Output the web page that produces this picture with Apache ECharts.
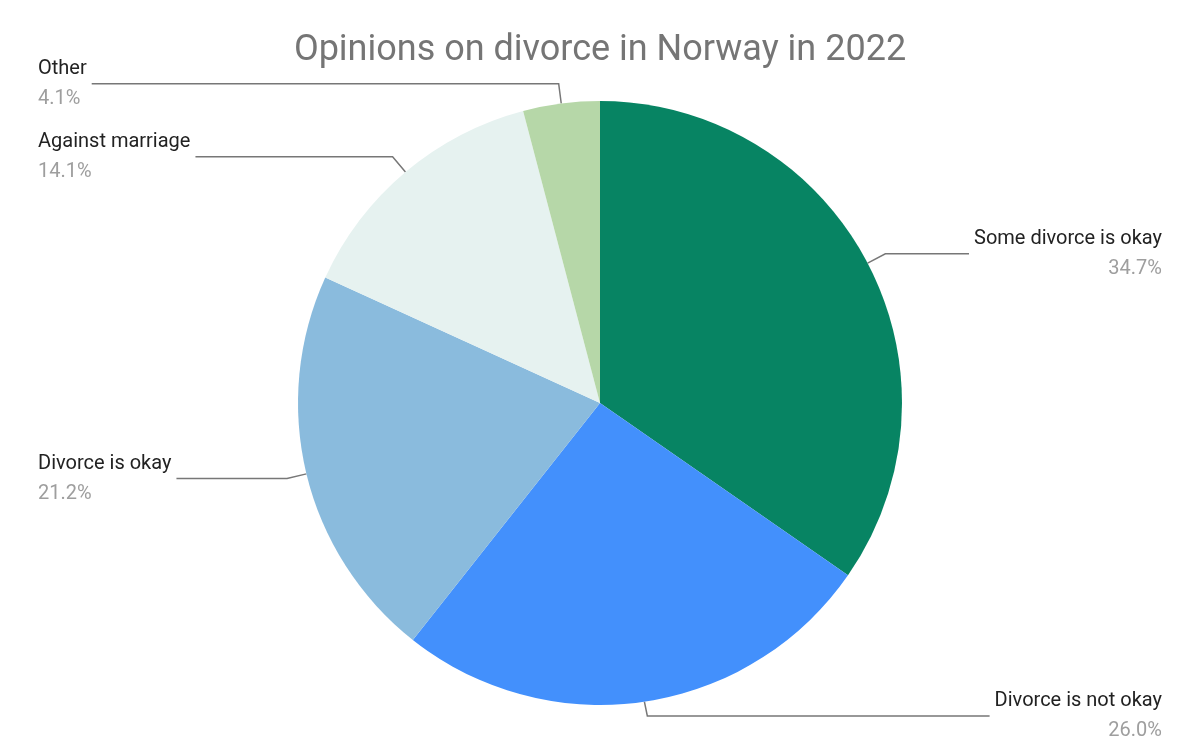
<!DOCTYPE html>
<html>
<head>
<meta charset="utf-8">
<script src="https://cdn.jsdelivr.net/npm/echarts@6/dist/echarts.min.js"></script>
<style>html,body{margin:0;padding:0;background:#fff}#chart{width:1200px;height:742px}</style>
</head>
<body>
<div id="chart"></div>
<script>
const categories = ["Some divorce is okay", "Divorce is not okay", "Divorce is okay", "Against marriage", "Other"];
const values = [34.7, 26.0, 21.2, 14.1, 4.1];
const colors = ["#078463", "#4390fc", "#8abbdd", "#e6f2f0", "#b6d7a8"];

const chart = echarts.init(document.getElementById("chart"));
chart.setOption({
  title: {
    text: "Opinions on divorce in Norway in 2022",
    left: "center",
    top: 28,
    textStyle: { fontFamily: "Roboto", fontSize: 36, fontWeight: "normal", color: "#757575" },
  },
  series: [
    {
      type: "pie",
      center: [600, 403],
      radius: 302,
      startAngle: 90,
      clockwise: true,
      animation: false,
      data: categories.map((name, i) => ({
        name,
        value: values[i],
        itemStyle: { color: colors[i] },
      })),
      itemStyle: { borderColor: "#fff", borderWidth: 0 },
      label: {
        position: "outer",
        alignTo: "edge",
        edgeDistance: 38,
        formatter: (p) => `{n|${p.name}}\n{p|${p.value.toFixed(1)}%}`,
        rich: {
          n: { fontFamily: "Roboto", fontSize: 20, color: "#222", lineHeight: 30 },
          p: { fontFamily: "Roboto", fontSize: 20, color: "#9e9e9e", lineHeight: 30 },
        },
      },
      labelLine: {
        show: true,
        length: 20,
        length2: 40,
        lineStyle: { color: "#777", width: 1.5 },
      },
    },
  ],
});
</script>
</body>
</html>
